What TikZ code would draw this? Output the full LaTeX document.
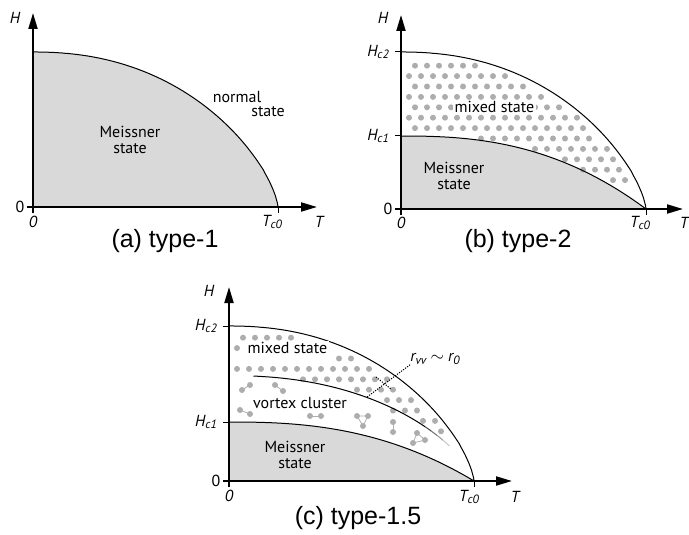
\documentclass[tikz,border=0pt]{standalone}
\usepackage{fontspec}
\setsansfont{PT Sans}
\newfontfamily\capfont{Liberation Sans}
\usetikzlibrary{arrows.meta}
\newcommand\lowtxt[1]{\raisebox{-0.35ex}{\fontsize{12}{12}\selectfont #1}}

\begin{document}
\begin{tikzpicture}[x=1pt,y=1pt]
\tikzset{
  axis/.style={line width=2pt,-{Triangle[length=16pt,width=9pt]}},
  tickmark/.style={line width=1pt},
  curve/.style={line width=1pt},
  meissner/.style={fill=black!15},
  vortex/.style={fill=black!32},
  link/.style={draw=black!32,line width=0.8pt},
  leader/.style={line width=1pt,dash pattern=on 1.2pt off 1.3pt},
  lbl/.style={font=\sffamily\fontsize{16}{16.5}\selectfont,inner sep=1pt,align=center},
  mathlbl/.style={font=\sffamily\itshape\fontsize{16}{16}\selectfont,inner sep=0pt},
  numlbl/.style={font=\sffamily\fontsize{16}{16}\selectfont,inner sep=0pt},
  caption/.style={font=\capfont\fontsize{25}{25}\selectfont,inner sep=0pt},
  declare function={fhi(\t)=pow(1-pow(\t,2.2),0.7); flo(\t)=1-pow(\t,2.5);}
}
\useasboundingbox (0,0) rectangle (689,-535);

% (a) type-1
\begin{scope}[shift={(33,-207)}]
\fill[meissner] (0,0) -- (0,155) -- plot[domain=0.001:0.999,samples=120] ({245*\x},{155*fhi(\x)}) -- (245,0) -- cycle;
\draw[curve] (0,155) -- plot[domain=0.001:0.999,samples=120] ({245*\x},{155*fhi(\x)}) -- (245,0);
\draw[axis] (0,-6) -- (0,194);
\draw[axis] (-6,0) -- (284,0);
\draw[tickmark] (245,0) -- (245,-6);
\node[mathlbl] (a_H) at (-18,189) {H};
\node[numlbl] (a_zeroH) at (-13,0) {0};
\node[mathlbl] (a_zeroT) at (0,-15) {0};
\node[mathlbl] (a_Tc) at (239,-15) {T\lowtxt{c0}};
\node[mathlbl] (a_T) at (286,-15) {T};
\node[lbl] (a_meissner) at (97,67) {Meissner\\state};
\node[lbl] (a_normal) at (204,110) {normal};
\node[lbl] (a_state) at (235,95) {state};
\node[caption] (a_cap) at (132,-34) {(a) type-1};
\end{scope}

% (b) type-2
\begin{scope}[shift={(401,-209)}]
\fill[meissner] (0,0) -- (0,73) -- plot[domain=0.001:1,samples=80] ({245*\x},{73*flo(\x)}) -- cycle;
\foreach \r in {0,...,12}{
  \foreach \k in {0,...,19}{
    \pgfmathsetmacro\h{143.3-10.4*\r}
    \pgfmathsetmacro\x{(isodd(\r) ? 8 : 14)+12*\k}
    \pgfmathtruncatemacro\ok{(pow(\x/245,2.2)+pow(\h/157,1.4286)<=0.95)&&(\h>=73*flo(\x/245)+1)&&(\h>25)}
    \ifnum\ok=1 \fill[vortex] (\x,\h) circle (3); \fi
  }
}
\draw[curve] (0,157) -- plot[domain=0.001:0.999,samples=120] ({245*\x},{157*fhi(\x)}) -- (245,0);
\draw[curve] (0,73) -- plot[domain=0.001:1,samples=80] ({245*\x},{73*flo(\x)});
\draw[axis] (0,-6) -- (0,194);
\draw[axis] (-6,0) -- (282,0);
\draw[tickmark] (-6,157) -- (0,157);
\draw[tickmark] (-6,73) -- (0,73);
\draw[tickmark] (245,0) -- (245,-6);
\node[mathlbl] (b_H) at (-18,191) {H};
\node[mathlbl] (b_Hc2) at (-23,157) {H\lowtxt{c2}};
\node[mathlbl] (b_Hc1) at (-23,73) {H\lowtxt{c1}};
\node[numlbl] (b_zeroH) at (-13,0) {0};
\node[mathlbl] (b_zeroT) at (0,-14) {0};
\node[mathlbl] (b_Tc) at (239,-14) {T\lowtxt{c0}};
\node[mathlbl] (b_T) at (283,-14) {T};
\node[lbl,fill=white,inner sep=1.5pt] (b_mixed) at (93.5,102) {mixed state};
\node[lbl] (b_meissner) at (53,33) {Meissner\\state};
\node[caption] (b_cap) at (117,-32) {(b) type-2};
\end{scope}

% (c) type-1.5
\begin{scope}[shift={(229,-481)}]
\fill[meissner] (0,0) -- (0,59) -- plot[domain=0.001:1,samples=80] ({245*\x},{59*flo(\x)}) -- cycle;
\foreach \r in {0,...,12}{
  \foreach \k in {0,...,19}{
    \pgfmathsetmacro\h{143.3-10.4*\r}
    \pgfmathsetmacro\x{(isodd(\r) ? 8 : 14)+12*\k}
    \pgfmathtruncatemacro\ok{(pow(\x/245,2.2)+pow(\h/155,1.4286)<=0.95)&&(\h>=105.4*fhi(\x/245)+1)&&(\h>44)&&((\r!=2)||(\x>100))}
    \ifnum\ok=1 \fill[vortex] (\x,\h) circle (3); \fi
  }
}
\fill[vortex] (164,70.5) circle (3);
% vortex pairs and triangles
\foreach \ax/\ay/\bx/\by in {13/91/21/96, 46/96/54/90, 11/71/21/67, 81/65/92/65, 164/59/164/49}{
  \draw[link] (\ax,\ay) -- (\bx,\by);
  \fill[vortex] (\ax,\ay) circle (3) (\bx,\by) circle (3);
}
\foreach \ax/\ay/\bx/\by/\cx/\cy in {128/65/139/65/134/55, 188/48/196/41/184/38}{
  \draw[link] (\ax,\ay) -- (\bx,\by) -- (\cx,\cy) -- cycle;
  \fill[vortex] (\ax,\ay) circle (3) (\bx,\by) circle (3) (\cx,\cy) circle (3);
}
\draw[curve] (0,155) -- plot[domain=0.001:0.999,samples=120] ({245*\x},{155*fhi(\x)}) -- (245,0);
\draw[curve] plot[domain=0.1:0.8,samples=60] ({245*\x},{105.4*fhi(\x)});
\foreach \a/\b/\c in {0.8/0.825/75, 0.825/0.85/58, 0.85/0.875/40, 0.875/0.9/22}{
  \draw[curve,black!\c] plot[domain=\a:\b,samples=5] ({245*\x},{105.4*fhi(\x)});
}
\draw[curve] (0,59) -- plot[domain=0.001:1,samples=80] ({245*\x},{59*flo(\x)});
\draw[axis] (0,-6) -- (0,194);
\draw[axis] (-6,0) -- (283,0);
\draw[tickmark] (-6,155) -- (0,155);
\draw[tickmark] (-6,59) -- (0,59);
\draw[tickmark] (245,0) -- (245,-6);
\node[mathlbl] (c_H) at (-20,190) {H};
\node[mathlbl] (c_Hc2) at (-23,155) {H\lowtxt{c2}};
\node[mathlbl] (c_Hc1) at (-23,59) {H\lowtxt{c1}};
\node[numlbl] (c_zeroH) at (-13,0) {0};
\node[mathlbl] (c_zeroT) at (0,-15) {0};
\node[mathlbl] (c_Tc) at (240,-16) {T\lowtxt{c0}};
\node[mathlbl] (c_T) at (286,-16) {T};
\node[lbl,fill=white,inner sep=1.5pt] (c_mixed) at (58.5,133) {mixed state};
\node[lbl] (c_cluster) at (71,78) {vortex cluster};
\node[lbl] (c_meissner) at (66,26) {Meissner\\state};
\node[mathlbl] (c_rvv) at (206,122) {r\lowtxt{vv} $\sim$ r\lowtxt{0}};
\coordinate (c_tip) at (138,84);
\draw[leader] (c_rvv.south west) -- (c_tip);
\draw[leader] (147,104) -- (162,92);
\node[caption] (c_cap) at (129,-37) {(c) type-1.5};
\end{scope}
\end{tikzpicture}
\end{document}
